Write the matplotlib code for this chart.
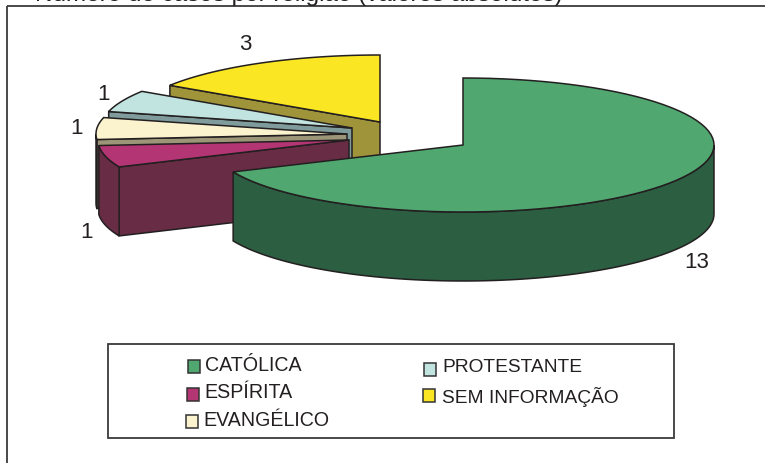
"""Pizza 3D: distribuicao por religiao (valores absolutos)."""
import numpy as np
import matplotlib.pyplot as plt
from matplotlib.patches import Polygon, Rectangle

plt.rcParams['font.family'] = ['Liberation Sans', 'DejaVu Sans']

categories = ["CATÓLICA", "ESPÍRITA", "EVANGÉLICO", "PROTESTANTE", "SEM INFORMAÇÃO"]
values = [13, 1, 1, 1, 3]
top_colors = ["#50A870", "#B43573", "#FBF2CE", "#C2E4E0", "#FAE622"]
side_colors = ["#2C5E41", "#682C45", "#5C5C5C", "#7F9B9B", "#A0943A"]
radial_colors = ["#2C5E41", "#682C45", "#9C9577", "#7F9B9B", "#A0943A"]

# centro de cada fatia na figura (px), explosao da pizza
centers = [(463, 145), (349, 140), (347, 134), (352, 128), (380, 122)]
RX, RY, DEPTH = 251, 67, 69
EDGE = "#231F20"

fig = plt.figure(figsize=(7.65, 4.63), dpi=100)
ax = fig.add_axes([0, 0, 1, 1])
ax.set_xlim(0, 765)
ax.set_ylim(463, 0)
ax.axis("off")


def rim(cx, cy, a0, a1):
    # angulos em graus, horario a partir do topo
    t = np.radians(np.linspace(a0, a1, 80))
    return np.column_stack([cx + RX * np.sin(t), cy - RY * np.cos(t)])


fractions = np.array(values) / sum(values) * 360
starts = np.concatenate([[0], np.cumsum(fractions)[:-1]])

# de tras para frente: sem informacao primeiro, catolica por ultimo
for i in range(len(values) - 1, -1, -1):
    cx, cy = centers[i]
    a0, a1 = starts[i], starts[i] + fractions[i]

    # parede radial que olha para o leitor
    if i > 0:
        p = rim(cx, cy, a0, a0)[0]
        face = [(cx, cy), p, (p[0], p[1] + DEPTH), (cx, cy + DEPTH)]
        ax.add_patch(Polygon(face, fc=radial_colors[i], ec=EDGE, lw=1.1, zorder=i * -3 + 20))

    # parede externa, so a metade da frente aparece
    w0, w1 = max(a0, 90), min(a1, 270)
    if w1 > w0:
        arc = rim(cx, cy, w0, w1)
        wall = np.vstack([arc, (arc + [0, DEPTH])[::-1]])
        ax.add_patch(Polygon(wall, fc=side_colors[i], ec=EDGE, lw=1.1, zorder=i * -3 + 21))

    # tampa
    top = np.vstack([[cx, cy], rim(cx, cy, a0, a1)])
    ax.add_patch(Polygon(top, fc=top_colors[i], ec=EDGE, lw=1.1, zorder=i * -3 + 22))

# rotulos de valor
value_pos = [(697, 262), (87, 232), (77, 129), (104, 94), (245, 45)]
for v, (x, y) in zip(values, value_pos):
    ax.text(x, y, str(v), fontsize=16, color=EDGE, ha="center", va="center", zorder=30)

# moldura (sem borda direita/inferior dentro do recorte) e titulo cortado
ax.add_patch(Rectangle((7, 6), 800, 500, fc="none", ec="#3A3A3A", lw=1.3, zorder=1))
ax.text(563, 0.5, "Número de casos por religião (valores absolutos)", fontsize=17.5,
        color=EDGE, ha="right", va="baseline", zorder=30)

# legenda
ax.add_patch(Rectangle((108, 344), 566, 94, fc="white", ec="#3A3A3A", lw=1.3, zorder=25))
marker_pos = [(188, 366.7), (187, 394), (186, 421.7), (424, 369), (423, 395.5)]
text_pos = [(205, 365.7), (204.5, 392.7), (203.5, 420), (442, 367.7), (442, 396.7)]
font_sizes = [14.1, 14.1, 14.1, 13.8, 13.8]
for i in range(len(categories)):
    x, y = marker_pos[i]
    ax.add_patch(Rectangle((x, y - 6.5), 12, 13, fc=top_colors[i], ec="#333333", lw=1.1, zorder=26))
    ax.text(text_pos[i][0], text_pos[i][1], categories[i], fontsize=font_sizes[i], color=EDGE,
            ha="left", va="center", zorder=27)

plt.savefig("out.png", dpi=100, facecolor="white")
plt.close()
